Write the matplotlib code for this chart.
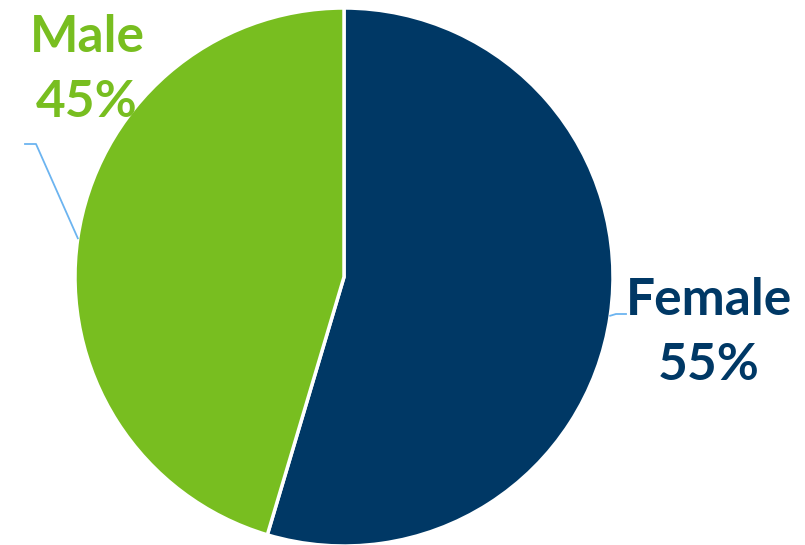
import numpy as np
import matplotlib.pyplot as plt

# data
labels = ["Female", "Male"]
shares = [54.6, 45.4]
colors = ["#003865", "#78BE20"]
leader_color = "#6CB4F0"

W, H = 805, 545
fig = plt.figure(figsize=(W / 100, H / 100), dpi=100)
ax = fig.add_axes([0, 0, 1, 1])

cx, cy, r = 344, H - 277, 269
wedges, _ = ax.pie(shares, colors=colors, startangle=90, counterclock=False,
                   center=(cx, cy), radius=r, frame=True,
                   wedgeprops=dict(edgecolor="white", linewidth=2.5))
ax.set_xlim(0, W)
ax.set_ylim(0, H)
ax.set_aspect("equal")
ax.axis("off")

font = dict(family=["Lato", "DejaVu Sans"], fontsize=37, fontweight="bold",
            ha="center", va="center", linespacing=1.48)

# leader lines start at the wedge mid-angle on the rim
for w, lab, val, col in zip(wedges, labels, shares, colors):
    mid = np.deg2rad((w.theta1 + w.theta2) / 2)
    px, py = cx + r * np.cos(mid), cy + r * np.sin(mid)
    txt = f"{lab}\n{val:.0f}%"
    if lab == "Male":
        ax.plot([px, 36, 25], [py, H - 144, H - 144], color=leader_color, lw=1.3)
        ax.text(87, H - 70, txt, color=col, **font)
    else:
        ax.plot([px, 616, 626], [py, H - 314, H - 314], color=leader_color, lw=1.3)
        ax.text(709, H - 333, txt, color=col, **font)

fig.savefig("out.png", dpi=100)
